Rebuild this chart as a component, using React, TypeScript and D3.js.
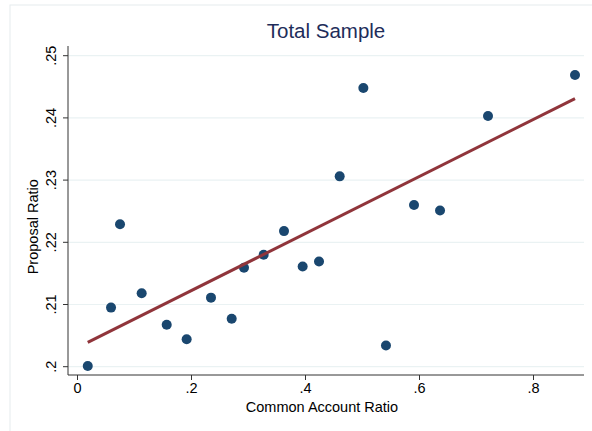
import React from "react";
import * as d3 from "d3";

const commonAccount = [0.018, 0.0588, 0.0746, 0.1126, 0.1565, 0.1915, 0.2342, 0.2705, 0.2921, 0.3266, 0.3623, 0.395, 0.4237, 0.46, 0.5015, 0.5412, 0.5904, 0.636, 0.7202, 0.8728];
const proposal = [0.2001, 0.2095, 0.2229, 0.2118, 0.20675, 0.2044, 0.2111, 0.2077, 0.2159, 0.218, 0.2218, 0.2161, 0.2169, 0.2306, 0.2448, 0.2034, 0.226, 0.2251, 0.2403, 0.2469];
const fitX = [0.018, 0.8728];
const fitY = [0.2039, 0.2431];
const xTicks = [0, 0.2, 0.4, 0.6, 0.8];
const yTicks = [0.2, 0.21, 0.22, 0.23, 0.24, 0.25];

const fmt = (v: number) => (v === 0 ? "0" : d3.format(".2~f")(v).replace(/^0/, ""));

export default function App() {
  const W = 592, H = 431;
  const x = d3.scaleLinear().domain([0, 0.8]).range([77.5, 533.5]);
  const y = d3.scaleLinear().domain([0.2, 0.25]).range([366.7, 55.7]);
  const left = 68, right = 584, bottom = 375, top = 46;
  const font = "Liberation Sans, Arial, sans-serif";
  const line = d3.line<number>().x((_, i) => x(fitX[i])).y((d) => y(d));
  return (
    <svg width={W} height={H} style={{ position: "absolute", left: 0, top: 0 }} fontFamily={font}>
      <rect x={0} y={0} width={W} height={H} fill="#fff" />
      <rect x={10} y={5} width={620} height={460} fill="#fff" stroke="#e6ecee" strokeWidth={1} />
      <text x={326} y={38} textAnchor="middle" fontSize={20.5} fill="#1e2d5a">Total Sample</text>
      {yTicks.map((t) => (
        <line key={"g" + t} x1={left} x2={right} y1={y(t)} y2={y(t)} stroke="#eaf2f3" strokeWidth={1.2} />
      ))}
      <line x1={left} x2={left} y1={top} y2={bottom} stroke="#333" strokeWidth={1} />
      <line x1={left} x2={right} y1={bottom} y2={bottom} stroke="#333" strokeWidth={1} />
      {yTicks.map((t) => (
        <g key={"y" + t}>
          <line x1={left - 5} x2={left} y1={y(t)} y2={y(t)} stroke="#333" />
          <text transform={`translate(56,${y(t)}) rotate(-90)`} textAnchor="middle" fontSize={14.5} fill="#000">{fmt(t)}</text>
        </g>
      ))}
      {xTicks.map((t) => (
        <g key={"x" + t}>
          <line x1={x(t)} x2={x(t)} y1={bottom} y2={bottom + 5} stroke="#333" />
          <text x={x(t)} y={393} textAnchor="middle" fontSize={14.5} fill="#000">{fmt(t)}</text>
        </g>
      ))}
      <text x={322} y={412} textAnchor="middle" fontSize={14.5} fill="#000">Common Account Ratio</text>
      <text transform={`translate(38,${y(0.2225)}) rotate(-90)`} textAnchor="middle" fontSize={14.5} fill="#000">Proposal Ratio</text>
      {commonAccount.map((cx, i) => (
        <circle key={i} cx={x(cx)} cy={y(proposal[i])} r={5} fill="#1a476f" />
      ))}
      <path d={line(fitY) || ""} fill="none" stroke="#90353b" strokeWidth={3} />
    </svg>
  );
}
